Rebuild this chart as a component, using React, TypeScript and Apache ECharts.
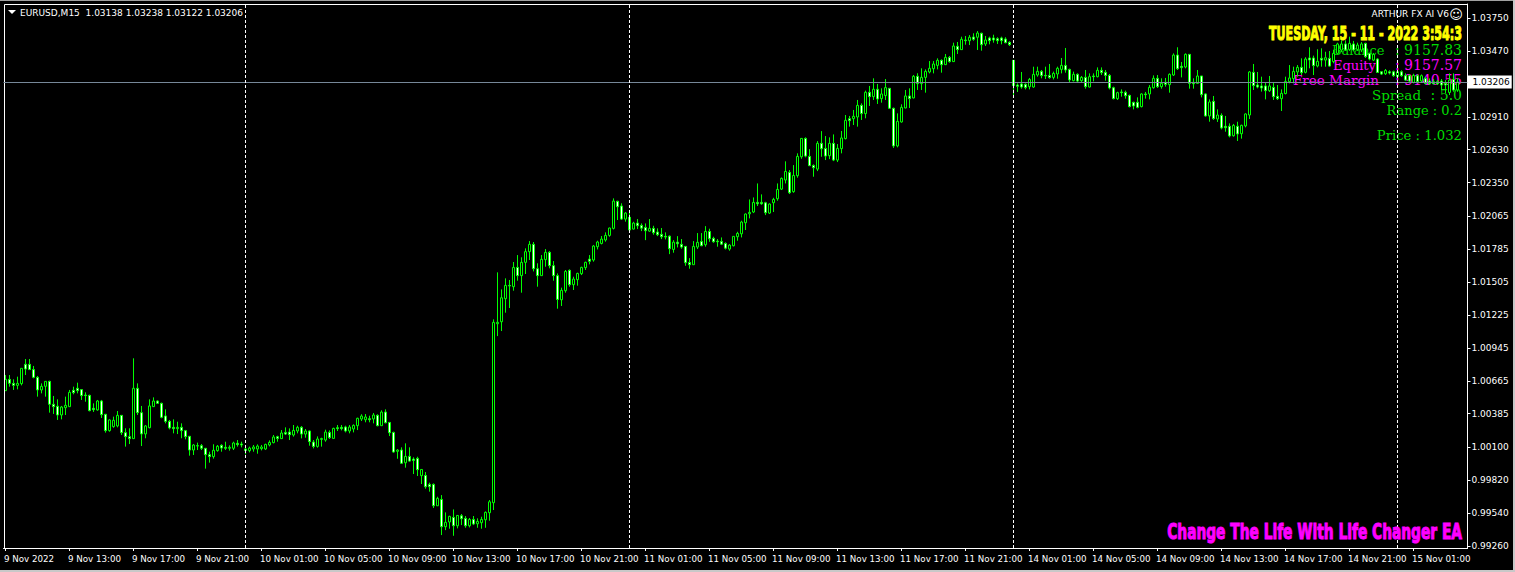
import React, { useEffect, useRef } from "react";
import * as echarts from "echarts";

// price values in 1/100000 units, one row per 10 bars
const bodyTops = [
100677,100677,100643,100643,100771,100805,100805,100760,100694,100618,
100660,100660,100465,100448,100442,100456,100567,100584,100601,100590,
100544,100541,100431,100493,100493,100380,100332,100329,100371,100371,
100224,100190,100601,100601,100394,100281,100451,100493,100493,100473,
100366,100320,100269,100269,100269,100241,100193,100119,100113,100113,
100091,100037,100074,100108,100116,100099,100099,100136,100133,100127,
100085,100093,100102,100110,100102,100124,100141,100187,100190,100221,
100226,100229,100243,100269,100269,100238,100238,100144,100170,100173,
100229,100226,100260,100266,100269,100272,100272,100286,100346,100365,
100357,100343,100374,100371,100399,100399,100311,100226,100076,100076,
100022,100022,99999,100005,99911,99860,99784,99784,99665,99656,
99461,99512,99503,99520,99517,99495,99486,99486,99469,99486,
99546,99636,101162,101162,101371,101476,101476,101629,101629,101672,
101763,101825,101825,101618,101698,101757,101757,101644,101559,101434,
101595,101604,101530,101578,101629,101672,101700,101811,101845,101870,
101901,101964,102193,102191,102151,102091,102055,102006,102006,101986,
101969,101961,101961,101930,101910,101893,101895,101844,101844,101825,
101808,101671,101808,101842,101850,101935,101935,101876,101853,101850,
101833,101819,101893,101918,102015,102083,102097,102182,102182,102182,
102179,102168,102207,102292,102386,102445,102437,102411,102573,102726,
102726,102573,102496,102684,102684,102641,102684,102684,102641,102730,
102880,102894,102914,103007,103007,103118,103118,103144,103144,103104,
103158,103152,102982,102871,102990,103087,103087,103254,103254,103245,
103296,103322,103359,103390,103390,103415,103415,103512,103509,103569,
103563,103586,103588,103622,103620,103563,103580,103580,103574,103580,
103571,103543,103390,103180,103189,103186,103228,103271,103296,103296,
103262,103262,103279,103322,103347,103347,103313,103271,103271,103245,
103245,103251,103257,103305,103305,103288,103262,103157,103115,103121,
103118,103092,103033,103033,103104,103104,103160,103237,103237,103194,
103203,103271,103435,103435,103339,103441,103441,103203,103257,103257,
103104,103036,103041,102925,102922,102829,102829,102837,102829,102837,
102934,103291,103288,103180,103172,103172,103172,103160,103084,103109,
103211,103240,103296,103330,103330,103401,103410,103410,103381,103407,
103412,103407,103449,103529,103529,103529,103534,103529,103520,103529,
103534,103449,103441,103401,103293,103304,103293,103293,103293,103293,
103259,103259,103262,103259,103259,103236,103214,103208,103208,103214,
103194,103222,103228,103206];

const bodyBottoms = [
100581,100643,100626,100626,100641,100765,100760,100694,100587,100587,
100618,100465,100445,100374,100374,100436,100445,100564,100581,100539,
100539,100411,100419,100417,100377,100241,100241,100275,100281,100224,
100190,100173,100173,100394,100213,100213,100266,100445,100473,100354,
100320,100264,100258,100258,100241,100190,100076,100076,100110,100091,
100037,100020,100020,100071,100093,100091,100091,100091,100122,100119,
100073,100071,100085,100085,100088,100085,100119,100139,100175,100173,
100212,100207,100204,100238,100212,100212,100147,100107,100107,100167,
100161,100181,100175,100258,100258,100238,100238,100255,100283,100340,
100334,100334,100340,100283,100283,100308,100223,100059,100065,99963,
99968,99982,99988,99909,99858,99764,99764,99602,99602,99424,
99424,99464,99432,99432,99492,99432,99432,99447,99449,99458,
99483,99543,99628,101150,101167,101363,101471,101465,101559,101559,
101672,101763,101618,101559,101559,101695,101644,101559,101357,101354,
101431,101482,101482,101525,101576,101627,101681,101692,101805,101833,
101862,101901,101961,102145,102040,102040,101947,101955,101983,101963,
101941,101938,101924,101907,101890,101887,101788,101782,101830,101802,
101669,101652,101652,101802,101813,101822,101873,101847,101847,101827,
101793,101785,101813,101890,101915,102009,102085,102100,102170,102170,
102094,102091,102179,102213,102295,102372,102264,102273,102409,102570,
102576,102494,102477,102465,102638,102576,102579,102542,102542,102639,
102724,102877,102894,102908,102937,102937,103081,103081,103061,103064,
103090,102982,102662,102662,102866,102985,103064,103070,103192,103192,
103245,103291,103319,103347,103353,103353,103379,103379,103481,103481,
103557,103557,103569,103586,103523,103529,103557,103563,103557,103557,
103540,103523,103175,103169,103163,103158,103166,103163,103265,103260,
103257,103243,103245,103274,103313,103308,103223,103217,103214,103217,
103166,103163,103251,103251,103285,103262,103155,103064,103064,103115,
103089,102996,103002,102990,102996,103098,103104,103157,103166,103166,
103186,103183,103265,103319,103328,103333,103194,103191,103194,103098,
102917,102917,102894,102891,102815,102817,102747,102749,102764,102766,
102832,102925,103175,103163,103155,103132,103132,103081,103064,103064,
103107,103209,103234,103291,103285,103288,103393,103345,103342,103392,
103392,103341,103379,103449,103478,103478,103483,103478,103483,103478,
103421,103401,103392,103287,103273,103276,103282,103259,103251,103259,
103222,103214,103202,103208,103214,103194,103191,103191,103191,103180,
103180,103117,103137,103138];

const highs = [
100714,100714,100677,100700,100771,100850,100850,100791,100706,100643,
100660,100666,100536,100507,100451,100530,100587,100615,100649,100592,
100567,100547,100473,100502,100502,100383,100337,100360,100408,100374,
100261,100261,100856,100643,100451,100289,100507,100524,100498,100479,
100422,100332,100337,100317,100303,100247,100193,100127,100139,100127,
100091,100062,100125,100119,100125,100147,100116,100147,100161,100147,
100105,100105,100119,100124,100119,100130,100158,100204,100198,100246,
100269,100260,100289,100283,100280,100255,100243,100161,100192,100181,
100249,100243,100266,100289,100289,100283,100289,100294,100351,100380,
100382,100368,100391,100380,100414,100422,100311,100232,100084,100099,
100133,100099,100014,100019,99911,99889,99798,99792,99679,99693,
99546,99517,99571,99523,99532,99515,99498,99515,99495,99509,
99554,99651,101187,101587,101442,101536,101522,101675,101734,101715,
101791,101853,101845,101664,101734,101785,101768,101683,101578,101457,
101607,101612,101550,101584,101635,101678,101734,101819,101856,101896,
101927,101967,102216,102196,102174,102100,102103,102017,102040,102003,
102003,102040,101983,101961,101964,101927,101901,101861,101895,101870,
101810,101708,101853,101921,101921,101980,101958,101890,101870,101884,
101842,101827,101893,101932,102026,102088,102207,102224,102343,102250,
102187,102173,102221,102343,102394,102531,102457,102499,102599,102726,
102735,102635,102505,102703,102788,102746,102735,102760,102678,102789,
102925,102917,102968,103053,103024,103132,103172,103237,103189,103152,
103231,103152,102988,102939,103016,103138,103152,103265,103280,103322,
103313,103384,103384,103407,103398,103444,103427,103540,103546,103591,
103597,103605,103620,103639,103625,103597,103591,103608,103586,103591,
103586,103552,103390,103194,103291,103194,103240,103336,103336,103308,
103336,103359,103294,103336,103410,103495,103319,103294,103279,103257,
103308,103279,103279,103330,103330,103308,103274,103166,103123,103143,
103132,103098,103038,103075,103109,103121,103180,103262,103265,103237,
103240,103279,103449,103501,103376,103449,103444,103237,103308,103257,
103109,103058,103087,102973,102939,102917,102854,102849,102868,102843,
102939,103299,103359,103291,103251,103200,103257,103200,103180,103143,
103251,103350,103336,103350,103407,103416,103501,103430,103484,103492,
103463,103469,103480,103540,103560,103560,103591,103555,103540,103545,
103540,103455,103452,103407,103299,103316,103305,103302,103305,103305,
103279,103270,103276,103270,103270,103251,103236,103231,103222,103231,
103222,103279,103279,103238];

const lows = [
100581,100615,100587,100592,100626,100714,100757,100686,100530,100558,
100530,100394,100383,100332,100337,100374,100445,100550,100558,100502,
100487,100405,100400,100411,100349,100224,100232,100266,100269,100204,
100105,100127,100173,100374,100110,100176,100261,100445,100470,100346,
100303,100252,100218,100212,100176,100167,100028,100034,100076,100076,
99918,99969,100003,100062,100062,100076,100071,100076,100105,100099,
100039,100056,100062,100045,100073,100076,100107,100133,100147,100170,
100204,100161,100190,100218,100175,100181,100113,100090,100096,100105,
100147,100170,100175,100238,100243,100226,100218,100226,100246,100323,
100312,100312,100303,100278,100283,100303,100195,100053,100002,99957,
99926,99977,99872,99855,99787,99747,99722,99583,99600,99353,
99395,99407,99347,99410,99438,99415,99418,99438,99415,99407,
99415,99475,99566,101045,101088,101244,101284,101431,101516,101414,
101573,101692,101595,101465,101559,101635,101621,101516,101278,101301,
101414,101465,101437,101474,101564,101607,101655,101678,101782,101825,
101848,101890,101952,102032,102032,102018,101941,101952,101955,101938,
101861,101932,101907,101895,101870,101867,101742,101754,101799,101788,
101643,101618,101652,101785,101810,101805,101847,101839,101805,101819,
101782,101771,101808,101856,101884,101947,102046,102091,102151,102162,
102074,102083,102100,102196,102287,102343,102253,102264,102392,102553,
102565,102494,102400,102448,102570,102542,102550,102533,102525,102599,
102718,102826,102840,102826,102883,102897,103002,103053,103019,103030,
103053,102976,102645,102650,102860,102982,102985,103067,103138,103138,
103115,103279,103279,103313,103285,103350,103370,103376,103444,103478,
103523,103520,103557,103478,103472,103512,103526,103540,103529,103526,
103535,103512,103087,103121,103149,103143,103143,103157,103251,103237,
103231,103234,103228,103234,103279,103285,103200,103211,103200,103206,
103149,103160,103211,103245,103265,103217,103143,103058,103053,103081,
103064,102990,102973,102982,102990,103064,103058,103149,103155,103149,
103166,103115,103257,103308,103245,103322,103149,103149,103194,103075,
102911,102868,102883,102866,102803,102783,102735,102741,102704,102724,
102820,102891,103138,103152,103124,103058,103121,103053,103053,102959,
103101,103194,103194,103251,103265,103279,103322,103265,103330,103336,
103336,103336,103365,103440,103460,103470,103470,103465,103470,103460,
103410,103390,103385,103282,103265,103265,103270,103250,103245,103250,
103214,103202,103194,103194,103202,103185,103180,103185,103180,103137,
103109,103095,103123,103122];

// B = bull bar (close above open), W = bear bar
const barDirections = [
"BWWBBWWWWB","BWWWBBBWWW","WWWBWWBBBW","WWBWWBBBWW","WWWBWWWBWW","WWBBWWBBWW",
"WBBBBBBBWB","WWBBWBWWBW","BWBWWWBBBB","BWBWBWWWBW","BWWWBWWWBW","BBWBWWBWBB",
"BBBBBBWBWB","BBWWBBWWWB","BWBBBBWBBB","BBBWWBWBWW","WBWWWWWBWW","WWBBWBWWWW",
"WBBBBBBBWW","WBBBBBWBBB","WWWBWWBWBB","BWBBWBWBWB","BWWBBBWBWB","BBBBWBWBWB",
"WBWBWBWWWW","WWWWWWBBBW","WWBBBWWBWB","WBWBWWWWBW","WWWWBWBBWB","WBBWWBWWBW",
"WBWBWWWBWB","BBWWWWBWWB","BBBBWBWWBW","BWBBBWBWBB","WWBWWBWWBW","WWBWBWWWWW","WBWB",
].join("");

const priceTicks = [1.0375,1.0347,1.0291,1.0263,1.0235,1.02065,1.01785,1.01505,1.01225,1.00945,1.00665,1.00385,1.001,0.9982,0.9954,0.9926];
const currentPrice = 1.03206;
const timeLabels = ["9 Nov 2022","9 Nov 13:00","9 Nov 17:00","9 Nov 21:00","10 Nov 01:00","10 Nov 05:00","10 Nov 09:00","10 Nov 13:00","10 Nov 17:00","10 Nov 21:00","11 Nov 01:00","11 Nov 05:00","11 Nov 09:00","11 Nov 13:00","11 Nov 17:00","11 Nov 21:00","14 Nov 01:00","14 Nov 05:00","14 Nov 09:00","14 Nov 13:00","14 Nov 17:00","14 Nov 21:00","15 Nov 01:00"];
const dayBreakBars = [60, 156, 252, 348];
const BAR_SLOTS = 366;
const LABEL_EVERY = 16;

const UI_FONT = "'DejaVu Sans', sans-serif";
const SERIF = "'DejaVu Serif', serif";
const HEAVY = "'DejaVu Sans Condensed', 'DejaVu Sans', sans-serif";
const GREEN = "#00dd00";
const MAGENTA = "#ff00ff";

function label(text: string, x: number, y: number, fill: string, align: string, font: string, size: number, extra: any = {}) {
  return {
    type: "text",
    z: 1,
    silent: true,
    style: { text, x, y, fill, align, verticalAlign: "middle", fontFamily: font, fontSize: size, ...extra },
  };
}

function squeezed(text: string, x: number, y: number, fill: string, size: number, scaleX: number) {
  return {
    type: "text",
    z: 10,
    silent: true,
    x,
    y,
    scaleX,
    style: { text, x: 0, y: 0, fill, align: "right", verticalAlign: "middle", fontFamily: HEAVY, fontSize: size, fontWeight: "bold", stroke: fill, lineWidth: 1 },
  };
}

export default function App() {
  const ref = useRef<HTMLDivElement>(null);
  useEffect(() => {
    if (!ref.current) return;
    const chart = echarts.init(ref.current, undefined, { renderer: "svg" });
    const categories = Array.from({ length: BAR_SLOTS }, (_, i) => String(i));
    const candles = bodyTops.map((t, i) => {
      const b = bodyBottoms[i];
      const bear = barDirections[i] === "W";
      return [bear ? t : b, bear ? b : t, lows[i], highs[i]].map((v) => v / 100000);
    });
    chart.setOption({
      animation: false,
      backgroundColor: "#000000",
      grid: { left: 3.5, right: 47.5, top: 4, bottom: 24, show: false },
      xAxis: {
        type: "category",
        data: categories,
        boundaryGap: true,
        axisLine: { lineStyle: { color: "#ffffff", width: 1 } },
        axisTick: { show: true, alignWithLabel: true, interval: (i: number) => i % LABEL_EVERY === 0, length: 3, lineStyle: { color: "#ffffff" } },
        axisLabel: {
          interval: (i: number) => i % LABEL_EVERY === 0,
          formatter: (_: string, i: number) => timeLabels[i / LABEL_EVERY] ?? "",
          color: "#ffffff",
          fontFamily: UI_FONT,
          fontSize: 8.7,
          align: "left",
          margin: 6,
          padding: [0, 0, 0, -1.5],
          hideOverlap: false,
        },
        splitLine: { show: false },
      },
      yAxis: {
        type: "value",
        position: "right",
        min: 0.99243,
        max: 1.03869,
        scale: true,
        axisLine: { show: true, lineStyle: { color: "#ffffff", width: 1 } },
        axisTick: { show: true, length: 3, customValues: priceTicks, lineStyle: { color: "#ffffff" } },
        axisLabel: { customValues: priceTicks, formatter: (v: number) => v.toFixed(5), color: "#ffffff", fontFamily: UI_FONT, fontSize: 9, margin: 4, padding: [4, 0, 0, 0] },
        splitLine: { show: false },
      },
      series: [
        {
          type: "candlestick",
          data: candles,
          barWidth: 3,
          itemStyle: { color: "#000000", color0: "#ffffff", borderColor: "#00ff00", borderColor0: "#00ff00", borderColorDoji: "#00ff00", borderWidth: 1 },
          markLine: {
            silent: true,
            symbol: "none",
            animation: false,
            precision: 5,
            data: [
              {
                yAxis: currentPrice,
                lineStyle: { color: "#778899", width: 1, type: "solid" },
                label: { show: true, position: "end", distance: 0, formatter: currentPrice.toFixed(5), color: "#000000", backgroundColor: "#ffffff", fontFamily: UI_FONT, fontSize: 9, padding: [3, 2, 1, 5] },
              },
              ...dayBreakBars.map((b) => ({
                xAxis: b,
                lineStyle: { color: "#ffffff", width: 1, type: [3, 2] },
                label: { show: false },
              })),
            ],
          },
        },
      ],
      graphic: [
        { type: "rect", z: 5, silent: true, shape: { x: 4.5, y: 4.5, width: 1463, height: 544 }, style: { fill: "none", stroke: "#ffffff", lineWidth: 1 } },
        { type: "rect", z: 100, silent: true, shape: { x: 0, y: 0, width: 1515, height: 1 }, style: { fill: "#a0a0a0" } },
        { type: "rect", z: 100, silent: true, shape: { x: 0, y: 570, width: 1515, height: 2 }, style: { fill: "#c8c8c8" } },
        { type: "rect", z: 100, silent: true, shape: { x: 1513, y: 0, width: 2, height: 572 }, style: { fill: "#c8c8c8" } },
        { type: "polygon", z: 10, silent: true, shape: { points: [[8, 10], [16, 10], [12, 14]] }, style: { fill: "#ffffff" } },
        { ...label("EURUSD,M15  1.03138 1.03238 1.03122 1.03206", 20, 12.5, "#ffffff", "left", UI_FONT, 9), z: 10 },
        { ...label("ARTHUR FX AI V6", 1449, 14, "#ffffff", "right", UI_FONT, 9), z: 10 },
        { ...label("☺", 1456, 14, "#ffffff", "center", UI_FONT, 13), z: 10 },
        squeezed("TUESDAY, 15 - 11 - 2022 3:54:3", 1462, 33, "#ffff00", 19, 0.65),
        label("Balance", 1332, 50, GREEN, "left", SERIF, 13),
        label(": 9157.83", 1462, 50, GREEN, "right", SERIF, 14),
        label("Equity", 1333, 65, MAGENTA, "left", SERIF, 13),
        label(": 9157.57", 1462, 65, MAGENTA, "right", SERIF, 14),
        label("Free Margin", 1293, 80, MAGENTA, "left", SERIF, 13.5),
        label(": 9140.55", 1462, 80, MAGENTA, "right", SERIF, 14),
        label("Spread", 1372, 95, GREEN, "left", SERIF, 13.5),
        label(": 5.0", 1462, 95, GREEN, "right", SERIF, 14),
        label("Range : 0.2", 1462, 110, GREEN, "right", SERIF, 13),
        label("Price : 1.032", 1462, 135, GREEN, "right", SERIF, 13.2),
        squeezed("Change The Life With Life Changer EA", 1462, 532, MAGENTA, 21, 0.73),
      ],
    });
    return () => chart.dispose();
  }, []);
  return <div ref={ref} style={{ position: "absolute", left: 0, top: 0, width: 1515, height: 572, background: "#000" }} />;
}
